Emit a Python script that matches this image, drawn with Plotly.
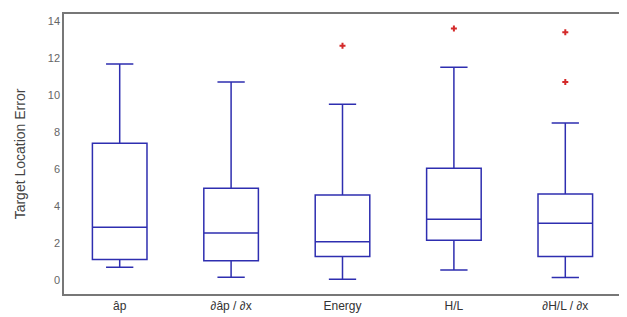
import plotly.graph_objects as go

categories = ["âp", "∂âp / ∂x", "Energy", "H/L", "∂H/L / ∂x"]
lower_whisker = [0.70, 0.16, 0.05, 0.55, 0.14]
q1_vals = [1.11, 1.04, 1.27, 2.15, 1.27]
median_vals = [2.86, 2.54, 2.07, 3.29, 3.07]
q3_vals = [7.39, 4.97, 4.60, 6.05, 4.65]
upper_whisker = [11.68, 10.71, 9.51, 11.50, 8.49]
outlier_cats = ["Energy", "H/L", "∂H/L / ∂x", "∂H/L / ∂x"]
outlier_vals = [12.66, 13.59, 13.39, 10.71]
y_ticks = [0, 2, 4, 6, 8, 10, 12, 14]

line_color = "#2e2eb0"

fig = go.Figure()
fig.add_trace(go.Box(
    x=categories,
    q1=q1_vals, median=median_vals, q3=q3_vals,
    lowerfence=lower_whisker, upperfence=upper_whisker,
    width=0.49, whiskerwidth=0.5,
    line=dict(color=line_color, width=1.5),
    fillcolor="rgba(0,0,0,0)",
    boxpoints=False, showlegend=False, hoverinfo="skip",
))
fig.add_trace(go.Scatter(
    x=outlier_cats, y=outlier_vals, mode="markers",
    marker=dict(symbol="cross", size=5, color="#d42a2a"),
    showlegend=False,
))

fig.update_layout(
    width=619, height=309,
    margin=dict(l=56, r=6, t=4, b=23),
    plot_bgcolor="white", paper_bgcolor="white",
    font=dict(family="Liberation Sans, Arial, sans-serif", color="#444"),
)
fig.update_xaxes(
    type="category", categoryorder="array", categoryarray=categories,
    range=[-0.5, 4.5],
    showline=True, linecolor="#777", linewidth=1.5, mirror=True,
    showgrid=False, zeroline=False, ticks="",
    tickfont=dict(size=12, color="#333"),
)
fig.update_yaxes(
    range=[-0.75, 14.38], tickvals=y_ticks,
    showline=True, linecolor="#777", linewidth=1.5, mirror=True,
    showgrid=False, zeroline=False, ticks="",
    tickfont=dict(size=11, color="#666"),
    title=dict(text="Target Location Error", font=dict(size=14, color="#444"), standoff=19),
)

fig.write_html("out.html")
